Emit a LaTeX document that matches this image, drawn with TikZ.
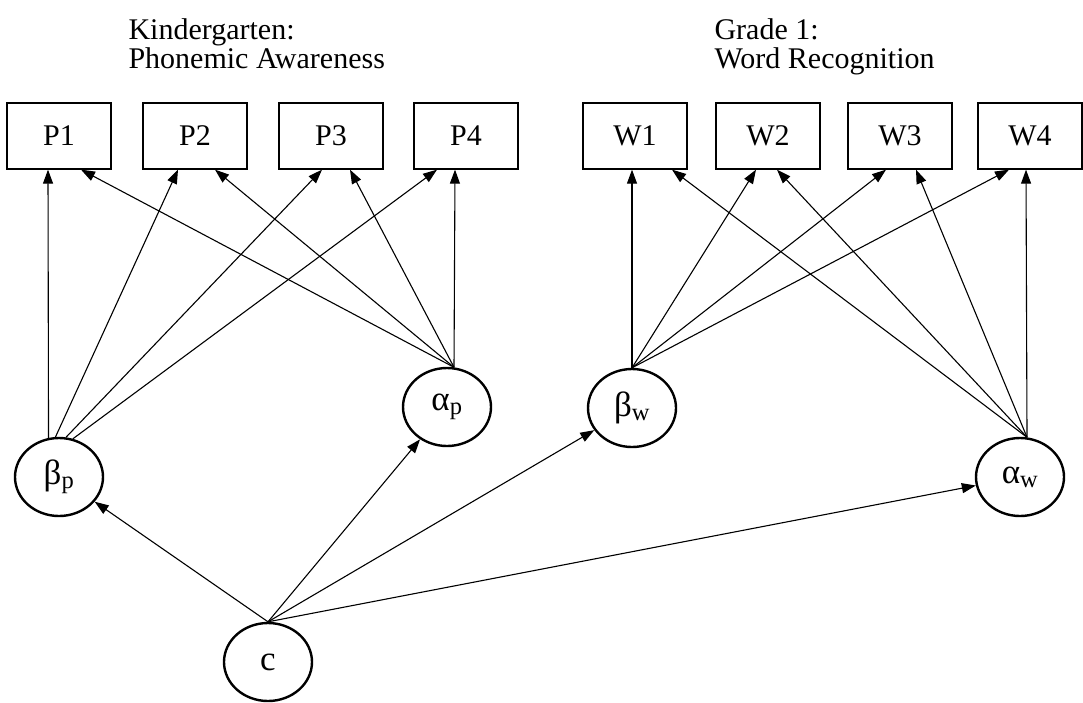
\documentclass[tikz,border=0pt]{standalone}
\usepackage{fontspec}
\setmainfont{Liberation Serif}
\usetikzlibrary{shapes.geometric,arrows.meta}

\begin{document}
\begin{tikzpicture}[x=1pt,y=-1pt,line width=1.1pt,>={Triangle[length=14pt,width=10pt]}]
\newcommand{\fsize}{\fontsize{30}{29}\selectfont}
\newcommand{\gsize}{\fontsize{35}{35}\selectfont}
\useasboundingbox (0,0) rectangle (1083,702);
% titles
\node[anchor=north west,align=left,font=\fsize,inner sep=0pt] (K_T) at (128,18) {Kindergarten:\\Phonemic Awareness};
\node[anchor=north west,align=left,font=\fsize,inner sep=0pt] (G_T) at (714,18) {Grade 1:\\Word Recognition};
% observed scores
\begin{scope}[shape=rectangle,minimum width=104pt,minimum height=66pt]
\tikzstyle{every node}=[draw,line width=1.3pt,font=\fsize]
\node (P_1) at (59,136) {P1};
\node (P_2) at (195,136) {P2};
\node (P_3) at (331,136) {P3};
\node (P_4) at (466,136) {P4};
\node (W_1) at (635,136) {W1};
\node (W_2) at (768,136) {W2};
\node (W_3) at (900,136) {W3};
\node (W_4) at (1030,136) {W4};
\end{scope}
% growth factors
\begin{scope}[shape=ellipse,minimum width=88pt,minimum height=78pt,inner sep=0pt]
\tikzstyle{every node}=[draw,line width=2.4pt,font=\gsize]
\node (B_p) at (59,477) {β\textsubscript{p}};
\node (A_p) at (447,407) {α\textsubscript{p}};
\node (B_w) at (632,408) {β\textsubscript{w}};
\node (A_w) at (1020,477) {α\textsubscript{w}};
\node (C) at (268,662) {c};
\end{scope}
\draw [->] (B_p.105) -- ([xshift=-11pt]P_1.south);
\draw [->] (B_p.95) -- ([xshift=-17pt]P_2.south);
\draw [->] (B_p.80) -- ([xshift=-9pt]P_3.south);
\draw [->] (B_p.70) -- ([xshift=-29pt]P_4.south);
\draw [->] (A_p.80) -- ([xshift=22pt]P_1.south);
\draw [->] (A_p.80) -- ([xshift=20pt]P_2.south);
\draw [->] (A_p.80) -- ([xshift=19pt]P_3.south);
\draw [->] (A_p.80) -- ([xshift=-11pt]P_4.south);
\draw [->] (B_w.north) -- ([xshift=-3pt]W_1.south);
\draw [->] (B_w.north) -- ([xshift=-12pt]W_2.south);
\draw [->] (B_w.north) -- ([xshift=-14pt]W_3.south);
\draw [->] (B_w.north) -- ([xshift=-21pt]W_4.south);
\draw [->] (A_w.80) -- ([xshift=37pt]W_1.south);
\draw [->] (A_w.80) -- ([xshift=9pt]W_2.south);
\draw [->] (A_w.80) -- ([xshift=16pt]W_3.south);
\draw [->] (A_w.80) -- ([xshift=-4pt]W_4.south);
\draw [->] (C.north) -- (B_p);
\draw [->] (C.north) -- (A_p);
\draw [->] (C.north) -- (B_w);
\draw [->] (C.north) -- (A_w);
\end{tikzpicture}
\end{document}
